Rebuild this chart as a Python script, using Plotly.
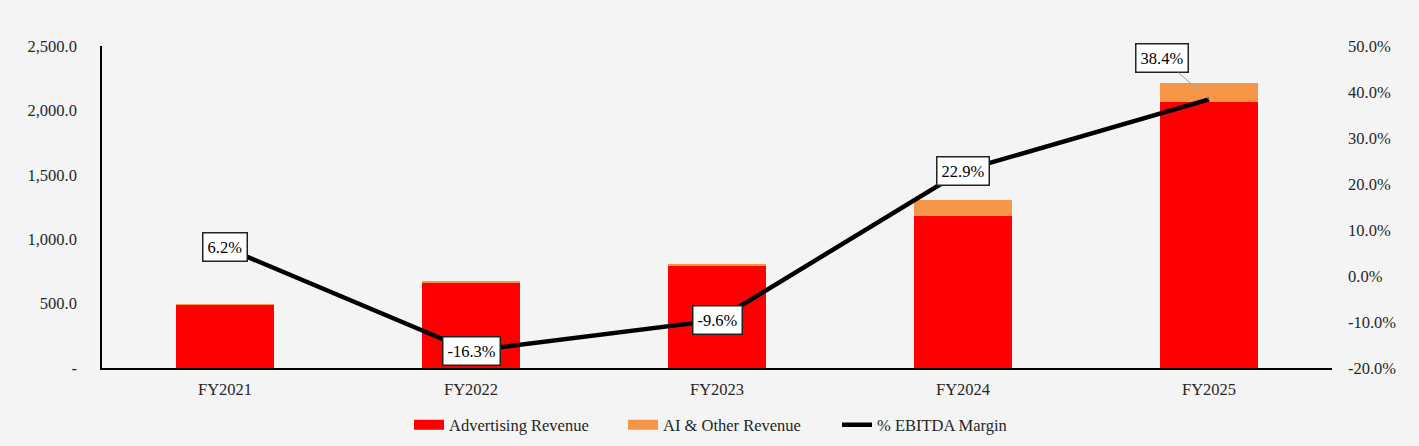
import plotly.graph_objects as go

categories = ["FY2021", "FY2022", "FY2023", "FY2024", "FY2025"]
advertising_revenue = [493, 660, 797, 1182, 2068]
ai_other_revenue = [2, 8, 8, 125, 145]
ebitda_margin = [6.2, -16.3, -9.6, 22.9, 38.4]
left_ticks = [0, 500, 1000, 1500, 2000, 2500]
left_tick_text = ["-", "500.0", "1,000.0", "1,500.0", "2,000.0", "2,500.0"]
right_ticks = [-20, -10, 0, 10, 20, 30, 40, 50]
right_tick_text = ["-20.0%", "-10.0%", "0.0%", "10.0%", "20.0%", "30.0%", "40.0%", "50.0%"]

FONT = "Liberation Serif"
TXT = "#262626"
FS = 16.5
RED = "#FF0000"
ORANGE = "#F79646"

fig = go.Figure()
fig.add_trace(go.Bar(x=categories, y=advertising_revenue, name="Advertising Revenue",
                     marker=dict(color=RED, line=dict(width=0)), width=0.4, showlegend=False))
fig.add_trace(go.Bar(x=categories, y=ai_other_revenue, name="AI & Other Revenue",
                     marker=dict(color=ORANGE, line=dict(width=0)), width=0.4, showlegend=False))
fig.add_trace(go.Scatter(x=categories, y=ebitda_margin, name="% EBITDA Margin", yaxis="y2",
                         mode="lines", line=dict(color="black", width=4.5), showlegend=False))
# legend-only entries (wide rectangle symbols like the original)
fig.add_trace(go.Scatter(x=[None], y=[None], name="Advertising Revenue", mode="lines",
                         line=dict(color=RED, width=11)))
fig.add_trace(go.Scatter(x=[None], y=[None], name="AI & Other Revenue", mode="lines",
                         line=dict(color=ORANGE, width=11)))
fig.add_trace(go.Scatter(x=[None], y=[None], name="% EBITDA Margin", mode="lines", yaxis="y2",
                         line=dict(color="black", width=4.5)))

annotations = []
for i, (c, v) in enumerate(zip(categories, ebitda_margin)):
    last = i == len(categories) - 1
    annotations.append(dict(
        x=c, y=v, xref="x", yref="y2", text=f"{v:.1f}%",
        showarrow=last, arrowhead=0, arrowcolor="#A0A0A0", arrowwidth=1,
        ax=-47 if last else 0, ay=-41 if last else 0,
        bgcolor="white", bordercolor="#222222", borderwidth=1.5, borderpad=4,
        font=dict(family=FONT, size=FS, color="black"),
    ))

fig.update_layout(
    width=1419, height=446,
    paper_bgcolor="#F4F4F4", plot_bgcolor="#F4F4F4",
    margin=dict(l=102, r=87, t=46, b=78, autoexpand=False),
    barmode="stack",
    font=dict(family=FONT, size=FS, color=TXT),
    showlegend=True,
    legend=dict(orientation="h", x=0.2496, xanchor="left", y=-0.177, yanchor="middle",
                traceorder="normal", entrywidth=169, entrywidthmode="pixels",
                font=dict(family=FONT, size=FS, color=TXT), itemwidth=30,
                bgcolor="rgba(0,0,0,0)"),
    xaxis=dict(showgrid=False, showline=True, linecolor="black", linewidth=1.5,
               ticks="", ticklabelstandoff=5, automargin=False,
               tickfont=dict(family=FONT, size=FS, color=TXT)),
    yaxis=dict(range=[0, 2500], tickvals=left_ticks, ticktext=left_tick_text,
               showgrid=False, zeroline=False, showline=True, linecolor="black", linewidth=1.5,
               ticks="", ticklabelstandoff=20, automargin=False,
               tickfont=dict(family=FONT, size=FS, color=TXT)),
    yaxis2=dict(range=[-20, 50], tickvals=right_ticks, ticktext=right_tick_text,
                overlaying="y", side="right", showgrid=False, zeroline=False, showline=False,
                ticks="", ticklabelstandoff=15, automargin=False,
                tickfont=dict(family=FONT, size=FS, color=TXT)),
    annotations=annotations,
)

fig.write_html("out.html", config={"displayModeBar": False},
               post_script="document.body.style.margin='0';document.body.style.background='#F4F4F4';")
